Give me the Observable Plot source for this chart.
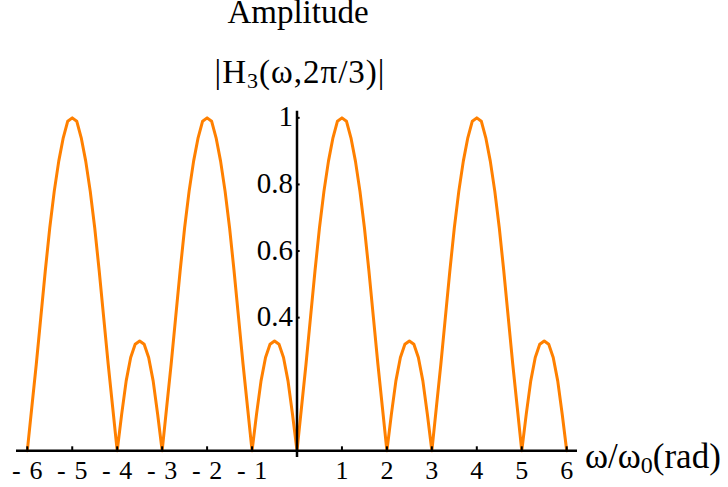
<!DOCTYPE html>
<html><head><meta charset="utf-8">
<script src="https://cdn.jsdelivr.net/npm/d3@7"></script>
<script src="https://cdn.jsdelivr.net/npm/@observablehq/plot@0.6"></script>
<style>html,body{margin:0;padding:0;background:#fff;} #chart{width:728px;height:487px;}</style>
</head><body><div id="chart"></div>
<script>
// sample positions ω/ω0 (rad)
const xValues = [
  -6,-5.9,-5.8,-5.7,-5.6,-5.5,-5.4,-5.3,-5.2,-5.1,
  -5,-4.9,-4.8,-4.7,-4.6,-4.5,-4.4,-4.3,-4.2,-4.1,
  -4,-3.9,-3.8,-3.7,-3.6,-3.5,-3.4,-3.3,-3.2,-3.1,
  -3,-2.9,-2.8,-2.7,-2.6,-2.5,-2.4,-2.3,-2.2,-2.1,
  -2,-1.9,-1.8,-1.7,-1.6,-1.5,-1.4,-1.3,-1.2,-1.1,
  -1,-0.9,-0.8,-0.7,-0.6,-0.5,-0.4,-0.3,-0.2,-0.1,
  0,0.1,0.2,0.3,0.4,0.5,0.6,0.7,0.8,0.9,
  1,1.1,1.2,1.3,1.4,1.5,1.6,1.7,1.8,1.9,
  2,2.1,2.2,2.3,2.4,2.5,2.6,2.7,2.8,2.9,
  3,3.1,3.2,3.3,3.4,3.5,3.6,3.7,3.8,3.9,
  4,4.1,4.2,4.3,4.4,4.5,4.6,4.7,4.8,4.9,
  5,5.1,5.2,5.3,5.4,5.5,5.6,5.7,5.8,5.9,
  6
];
// amplitude |H3(ω,2π/3)| read at those positions
const amplitude = [
  0,.13,.26,.40,.54,.67,.78,.87,.94,.99,
  1,.99,.94,.87,.78,.67,.54,.40,.26,.13,
  0,.11,.21,.28,.32,.33,.32,.28,.21,.11,
  0,.13,.26,.40,.54,.67,.78,.87,.94,.99,
  1,.99,.94,.87,.78,.67,.54,.40,.26,.13,
  0,.11,.21,.28,.32,.33,.32,.28,.21,.11,
  0,.13,.26,.40,.54,.67,.78,.87,.94,.99,
  1,.99,.94,.87,.78,.67,.54,.40,.26,.13,
  0,.11,.21,.28,.32,.33,.32,.28,.21,.11,
  0,.13,.26,.40,.54,.67,.78,.87,.94,.99,
  1,.99,.94,.87,.78,.67,.54,.40,.26,.13,
  0,.11,.21,.28,.32,.33,.32,.28,.21,.11,
  0
];
const xTicks = [-6,-5,-4,-3,-2,-1,1,2,3,4,5,6];
const xTickLabels = ["-\u20046","-\u20045","-\u20044","-\u20043","-\u20042","-\u20041","1","2","3","4","5","6"];
const yTicks = [0.4,0.6,0.8,1];
const yTickLabels = ["0.4","0.6","0.8","1"];

const data = xValues.map((x, i) => ({x, y: amplitude[i]}));
const serif = "'Liberation Serif','Times New Roman',serif";

const plot = Plot.plot({
  width: 728, height: 487,
  marginLeft: 16, marginRight: 151, marginTop: 110.7, marginBottom: 36.7,
  x: {domain: [-6.24, 6.24], axis: null},
  y: {domain: [0, 1.02], axis: null},
  style: {fontFamily: serif, background: "white", color: "black"},
  marks: [
    Plot.line(data, {x: "x", y: "y", stroke: "#FF8000", strokeWidth: 3}),
    Plot.ruleY([0], {stroke: "black", strokeWidth: 2.5}),
    Plot.ruleX([0], {y1: -0.02, y2: 1.02, stroke: "black", strokeWidth: 2.5}),
    Plot.ruleX(xTicks, {x: d => d, y1: 0, y2: 0.012, stroke: "black", strokeWidth: 2}),
    Plot.ruleY(yTicks, {y: d => d, x1: 0, x2: 0.07, stroke: "black", strokeWidth: 2}),
    Plot.text(xTicks, {x: d => d, y: 0, text: (d, i) => xTickLabels[i], lineAnchor: "bottom", dy: 28, fontSize: 26, fill: "black"}),
    Plot.text(yTicks, {x: 0, y: d => d, text: (d, i) => yTickLabels[i], lineAnchor: "bottom", textAnchor: "end", dx: -4, dy: 8.5, fontSize: 29, fill: "black"})
  ]
});

const svg = d3.select(plot);
svg.append("text").attr("x", 298).attr("y", 23).attr("text-anchor", "middle")
  .attr("font-family", serif).attr("font-size", 33).attr("fill", "black").text("Amplitude");
const t2 = svg.append("text").attr("x", 300).attr("y", 83).attr("text-anchor", "middle")
  .attr("font-family", serif).attr("font-size", 33).attr("letter-spacing", 1).attr("fill", "black");
t2.append("tspan").text("|H");
t2.append("tspan").attr("font-size", 22).attr("dy", 5).text("3");
t2.append("tspan").attr("dy", -5).text("(ω,2π/3)|");
const t3 = svg.append("text").attr("x", 585).attr("y", 468).attr("text-anchor", "start")
  .attr("font-family", serif).attr("font-size", 35).attr("fill", "black");
t3.append("tspan").text("ω/ω");
t3.append("tspan").attr("font-size", 24).attr("dy", 5).text("0");
t3.append("tspan").attr("dy", -5).text("(rad)");

document.getElementById("chart").appendChild(plot);
</script>
</body></html>
